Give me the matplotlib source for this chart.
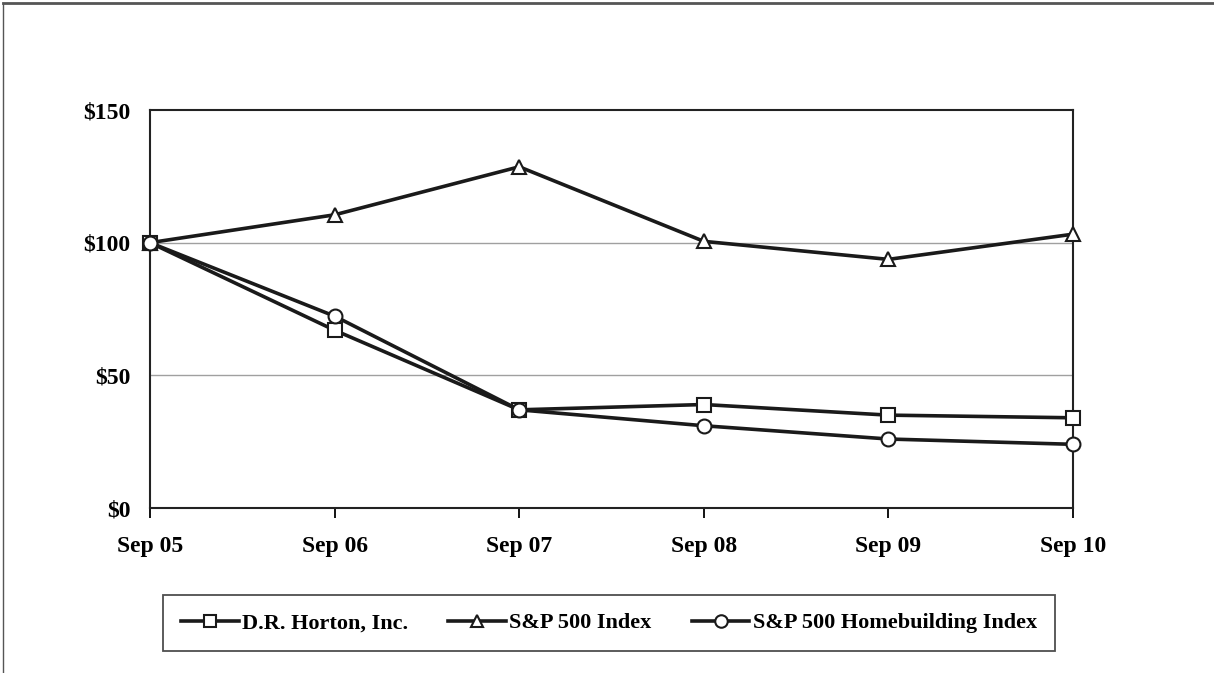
import matplotlib.pyplot as plt
from matplotlib.lines import Line2D

# datos
fechas = ['Sep 05', 'Sep 06', 'Sep 07', 'Sep 08', 'Sep 09', 'Sep 10']
horton = [100, 67, 37, 39, 35, 34]
sp500 = [100, 110.5, 128.6, 100.5, 93.7, 103.2]
homebuilding = [100, 72.3, 37, 31, 26, 24]
y_ticks = [0, 50, 100, 150]
y_labels = ['$0', '$50', '$100', '$150']

plt.rcParams['font.family'] = ['Liberation Serif', 'DejaVu Serif']
plt.rcParams['font.weight'] = 'bold'

fig = plt.figure(figsize=(12.14, 6.73), dpi=100)
ax = fig.add_axes([150 / 1214, 1 - 508 / 673, (1073 - 150) / 1214, (508 - 110) / 673])

x = list(range(len(fechas)))
estilo = dict(color='#1a1a1a', linewidth=2.6, markersize=10, markerfacecolor='white',
              markeredgecolor='#1a1a1a', markeredgewidth=1.5, clip_on=False, zorder=3)
ax.plot(x, horton, marker='s', label='D.R. Horton, Inc.', **estilo)
ax.plot(x, sp500, marker='^', label='S&P 500 Index', **estilo)
ax.plot(x, homebuilding, marker='o', label='S&P 500 Homebuilding Index', **estilo)

ax.set_xlim(0, len(fechas) - 1)
ax.set_ylim(0, 150)
ax.set_xticks(x)
ax.set_xticklabels(fechas, fontsize=17, fontweight='bold')
ax.set_yticks(y_ticks)
ax.set_yticklabels(y_labels, fontsize=17, fontweight='bold')
ax.tick_params(axis='y', length=0, pad=14)
ax.tick_params(axis='x', length=7, width=1.3, direction='out', pad=13)
for v in [50, 100]:
    ax.axhline(v, color='#a0a0a0', linewidth=1, zorder=1)
for s in ax.spines.values():
    s.set_color('#222222')
    s.set_linewidth(1.5)

leg = fig.legend(loc='center', bbox_to_anchor=(609 / 1214, 1 - 623 / 673), ncol=3,
                 fontsize=16, frameon=True, fancybox=False, handlelength=2.6,
                 columnspacing=1.8, handletextpad=0.15, borderpad=0.8)
leg.get_frame().set_edgecolor('#222222')
leg.get_frame().set_linewidth(1.3)
for h in leg.legend_handles:
    h.set_markersize(9)

# borde exterior (solo arriba e izquierda)
fig.add_artist(Line2D([3 / 1214, 1], [1 - 3 / 673, 1 - 3 / 673], color='#555555', linewidth=2))
fig.add_artist(Line2D([3 / 1214, 3 / 1214], [0, 1 - 3 / 673], color='#555555', linewidth=1))

fig.savefig('out.png', dpi=100)
